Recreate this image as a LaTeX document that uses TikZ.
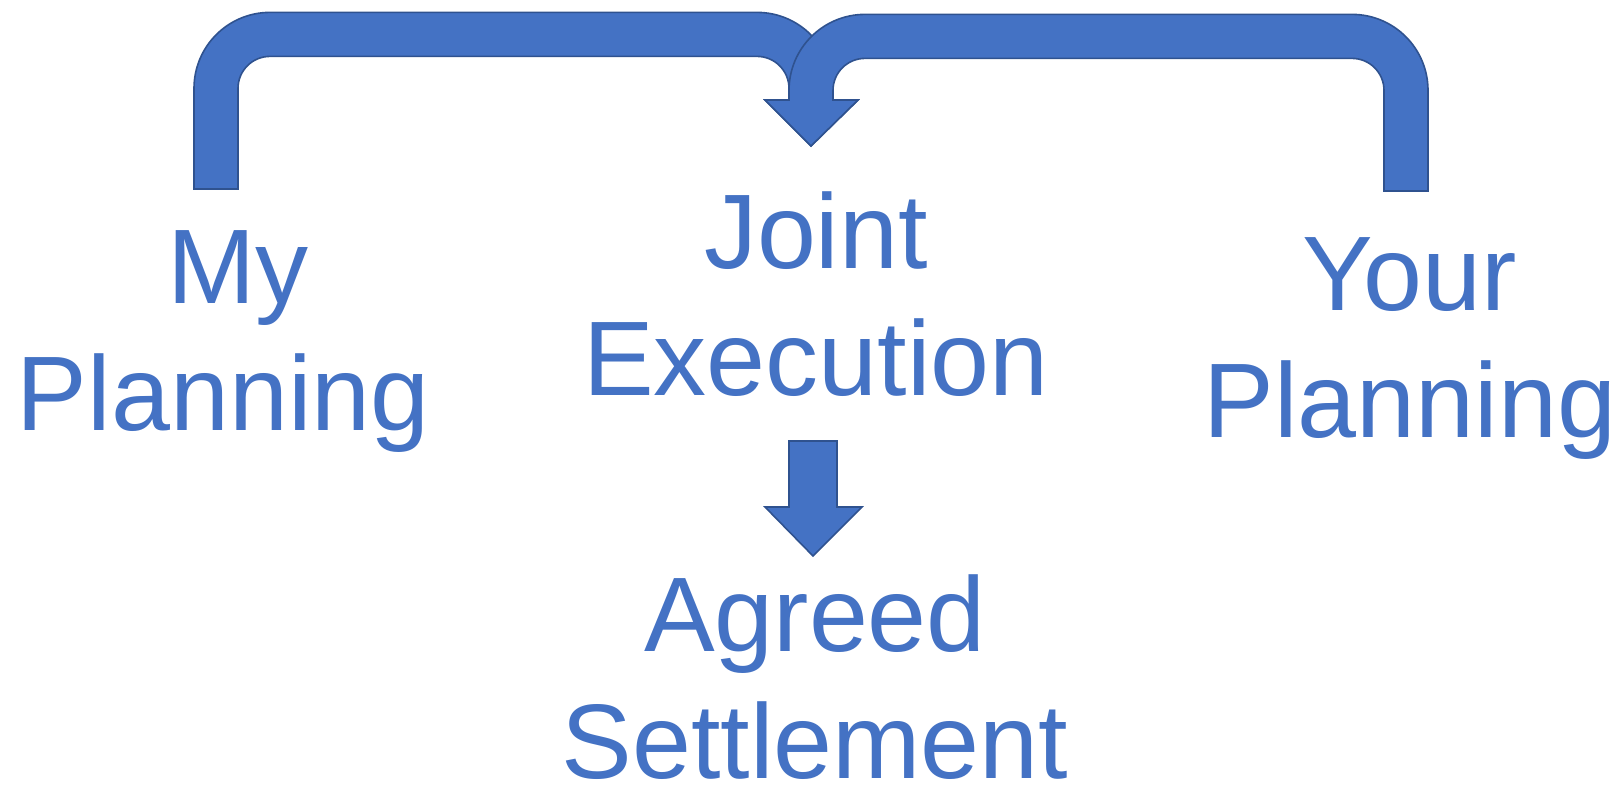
\documentclass[tikz,border=0pt]{standalone}
\usepackage{fontspec}
\setmainfont{Liberation Sans}
\definecolor{officeblue}{HTML}{4472C4}
\definecolor{officeedge}{HTML}{2F528F}
\begin{document}
\begin{tikzpicture}[x=0.5pt,y=0.5pt,
  blockarrow/.style={fill=officeblue,draw=officeedge,line width=0.8pt,line join=miter},
  label/.style={text=officeblue,align=center,inner sep=0pt,anchor=base,
    font=\fontsize{53}{63.5}\selectfont}]
\useasboundingbox (0,0) rectangle (1617,786);

% text blocks (anchored at the baseline of their last line)
\node[label] (my)    at (238,355)  {My\\Planning\hspace*{0.278em}};
\node[label] (joint) at (816,390)  {Joint\\Execution};
\node[label] (your)  at (1410,348) {Your\\Planning};
\node[label] (agree) at (815,7)    {Agreed\\Settlement};

% bent arrow from the left planning block into the joint block
\draw[blockarrow] (194,597) -- (194,697.6)
  arc[start angle=180,end angle=90,radius=76] -- (757,773.6)
  arc[start angle=90,end angle=0,radius=76] -- (833,686) -- (858,686)
  -- (811,640) -- (765,686) -- (789,686) -- (789,697.6)
  arc[start angle=0,end angle=90,radius=32] -- (270,729.6)
  arc[start angle=90,end angle=180,radius=32] -- (238,597) -- cycle;

% bent arrow from the right planning block into the joint block
\draw[blockarrow] (1428,595) -- (1428,695.6)
  arc[start angle=0,end angle=90,radius=76] -- (865,771.6)
  arc[start angle=90,end angle=180,radius=76] -- (789,686) -- (765,686)
  -- (811,640) -- (858,686) -- (833,686) -- (833,695.6)
  arc[start angle=180,end angle=90,radius=32] -- (1352,727.6)
  arc[start angle=90,end angle=0,radius=32] -- (1384,595) -- cycle;

% straight arrow from joint execution down to the settlement
\draw[blockarrow] (789,345) -- (837,345) -- (837,279) -- (862,279)
  -- (813,230) -- (765,279) -- (789,279) -- cycle;
\end{tikzpicture}
\end{document}
